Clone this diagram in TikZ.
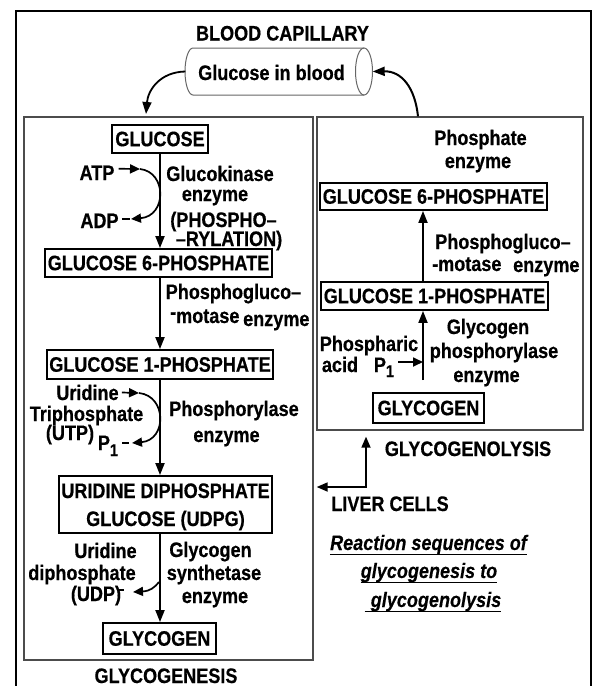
\documentclass[tikz,border=0pt]{standalone}
\usepackage{fontspec}
\setmainfont{Liberation Sans}[FakeStretch=0.86, BoldFeatures={FakeBold=0.5}, BoldItalicFeatures={FakeBold=0.3}]
\usetikzlibrary{arrows.meta}
\begin{document}
\begin{tikzpicture}[x=1pt,y=-1pt,
  every node/.style={font=\fontsize{21}{25}\selectfont\bfseries, inner sep=0pt},
  lbl/.style={anchor=base},
  cbox/.style={draw, line width=1.8pt, inner sep=0pt, minimum height=28pt},
  secbox/.style={draw=black!70, line width=1.3pt, inner sep=0pt},
  flow/.style={line width=1.8pt, -{Triangle[length=12pt,width=9pt]}},
  sflow/.style={line width=1.7pt, -{Triangle[length=10pt,width=9pt]}},
  plain/.style={line width=1.6pt},
  uline/.style={line width=1.4pt},
  ital/.style={font=\fontsize{21}{25}\selectfont\bfseries\itshape},
  cylline/.style={draw=black!60, line width=1pt},
]
\useasboundingbox (0,0) rectangle (595,686);
% outer frame (open at bottom)
\draw[line width=2.2pt] (16,690) -- (16,11) -- (591,11) -- (591,690);

% section boxes
\node[secbox, minimum width=289, minimum height=543] (lbox) at (168.5,388.5) {};
\node[secbox, minimum width=266, minimum height=313] (rbox) at (450,273.5) {};

% column coordinates
\coordinate (cx1) at (160,0);
\coordinate (cx2) at (423,0);

% blood capillary
\node[lbl] (bc) at (282.5,40.5) {BLOOD CAPILLARY};
\draw[cylline] (364,48) -- (193,48) arc[start angle=270, end angle=90, x radius=8, y radius=23.5] -- (364,95);
\draw[cylline] (364,71.5) ellipse[x radius=8.5, y radius=23.5];
\node[minimum width=187, minimum height=47] (cyl) at (279,71.5) {};
\node[lbl] (cyltext) at (271.5,80) {Glucose in blood};
\coordinate (a1) at (146,114);
\draw[flow] (cyl.west) .. controls (160,72) and (148,90) .. (a1);
\draw[flow, line width=2pt] ([xshift=-32pt]rbox.north) .. controls (415,88) and (402,71) .. (cyl.east);

% ---- Glycogenesis (left) ----
\node[cbox, minimum width=96] (glc) at (160,139) {GLUCOSE};
\node[cbox, minimum width=227] (g6p) at (158.5,263) {GLUCOSE 6-PHOSPHATE};
\node[cbox, minimum width=226, minimum height=29] (g1p) at (160,364.5) {GLUCOSE 1-PHOSPHATE};
\node[cbox, minimum width=213, minimum height=57] (udpg) at (165.5,504.5) {};
\node[lbl] at (165.5,498) {URIDINE DIPHOSPHATE};
\node[lbl] at (165.5,526) {GLUCOSE (UDPG)};
\node[cbox, minimum width=113, minimum height=31] (glyl) at (159.5,638.5) {GLYCOGEN};

\draw[flow] (glc.south -| cx1) -- (g6p.north -| cx1);
\draw[flow] (g6p.south -| cx1) -- (g1p.north -| cx1);
\draw[flow] (g1p.south -| cx1) -- (udpg.north -| cx1);
\draw[flow] (udpg.south -| cx1) -- (glyl.north -| cx1);

% ATP / ADP
\node[lbl] (atp) at (97,180) {ATP};
\node[lbl] (adp) at (99.5,228) {ADP};
\coordinate (atpc) at (140,169);
\coordinate (adpc) at (131,219);
\draw[sflow] ([xshift=4pt,yshift=4pt]atp.east) -- (atpc);
\draw[sflow] (atpc) .. controls (167,172) and (167,216) .. (adpc);
\draw[plain] ([xshift=3pt,yshift=2pt]adp.east) -- ++(8,0);
\node[lbl] at (220,181) {Glucokinase};
\node[lbl] at (215,201) {enzyme};
\node[lbl] at (223.5,227) {(PHOSPHO–};
\node[lbl] at (229,246) {–RYLATION)};

% phosphoglucomutase (left)
\node[lbl] at (233.5,299) {Phosphogluco–};
\node[lbl, anchor=base west] at (170,323) {\raisebox{4pt}{-}motase};
\node[lbl, anchor=base west] at (243,326) {enzyme};

% UTP
\node[lbl] (uri) at (87.5,400) {Uridine};
\node[lbl] at (86.5,421) {Triphosphate};
\node[lbl] at (70,440) {(UTP)};
\node[lbl] (p1a) at (108,450) {P\raisebox{-6pt}{\fontsize{17}{17}\selectfont 1}};
\coordinate (utpc) at (139,393);
\coordinate (p1c) at (132,443);
\draw[sflow] ([xshift=3pt]uri.east) -- (utpc);
\draw[sflow] (utpc) .. controls (167,396) and (167,440) .. (p1c);
\draw[plain] (122,443) -- (129,443);
\node[lbl] at (234,416) {Phosphorylase};
\node[lbl] at (226.5,442) {enzyme};

% UDP
\node[lbl] at (105.5,558) {Uridine};
\node[lbl] at (82,580) {diphosphate};
\node[lbl] (udp) at (96,601) {(UDP)};
\draw[line width=1.4pt] (117,590) -- (124,590);
\coordinate (udps) at (159,582);
\coordinate (udpc) at (133,592);
\draw[sflow] (udps) .. controls (154,588) and (150,591) .. (udpc);
\node[lbl] at (210.5,557) {Glycogen};
\node[lbl] at (214,580) {synthetase};
\node[lbl] at (215,603) {enzyme};

\node[lbl] at (166,683) {GLYCOGENESIS};

% ---- Glycogenolysis (right) ----
\node[lbl] at (480.5,145) {Phosphate};
\node[lbl] at (478,168) {enzyme};
\node[cbox, minimum width=227, minimum height=27] (g6pr) at (433.5,196.5) {GLUCOSE 6-PHOSPHATE};
\node[cbox, minimum width=227, minimum height=28] (g1pr) at (434.5,296) {GLUCOSE 1-PHOSPHATE};
\node[cbox, minimum width=111, minimum height=30] (glyr) at (428.5,408) {GLYCOGEN};
\draw[flow] (g1pr.north -| cx2) -- (g6pr.south -| cx2);
\coordinate (gs) at (423,380);
\draw[flow] (gs) -- (g1pr.south -| cx2);

\node[lbl] at (503,249) {Phosphogluco–};
\node[lbl, anchor=base west] at (432,271) {-motase};
\node[lbl, anchor=base west] at (513,272) {enzyme};

\node[lbl] at (369,351) {Phospharic};
\node[lbl] at (340,372) {acid};
\node[lbl] (p1b) at (384,372) {P\raisebox{-5pt}{\fontsize{17}{17}\selectfont 1}};
\coordinate (pa) at (398,362);
\draw[sflow] (pa) -- (pa -| cx2);
\node[lbl] at (488,334) {Glycogen};
\node[lbl] at (494,358) {phosphorylase};
\node[lbl] at (486.5,382) {enzyme};

\node[lbl] at (468,456) {GLYCOGENOLYSIS};

% liver cells
\coordinate (lc) at (366,487);
\draw[line width=1.7pt, {Triangle[length=11pt,width=9pt]}-{Triangle[length=11pt,width=9pt]},
      shorten <=3pt, shorten >=6pt] (lbox.east |- lc) -- (lc) -- (rbox.south -| lc);
\node[lbl] at (390,511) {LIVER CELLS};

% caption
\node[lbl, ital] (r1) at (428.5,550) {Reaction sequences of};
\node[lbl, ital] (r2) at (429,578) {glycogenesis to};
\node[lbl, ital] (r3) at (436,607) {glycogenolysis};
\draw[uline] ([yshift=-4.5pt]r1.base west) -- ([yshift=-4.5pt]r1.base east);
\draw[uline] ([yshift=-4.5pt]r2.base west) -- ([yshift=-4.5pt]r2.base east);
\draw[uline] ([xshift=-6pt,yshift=-4.5pt]r3.base west) -- ([yshift=-4.5pt]r3.base east);
\end{tikzpicture}
\end{document}
